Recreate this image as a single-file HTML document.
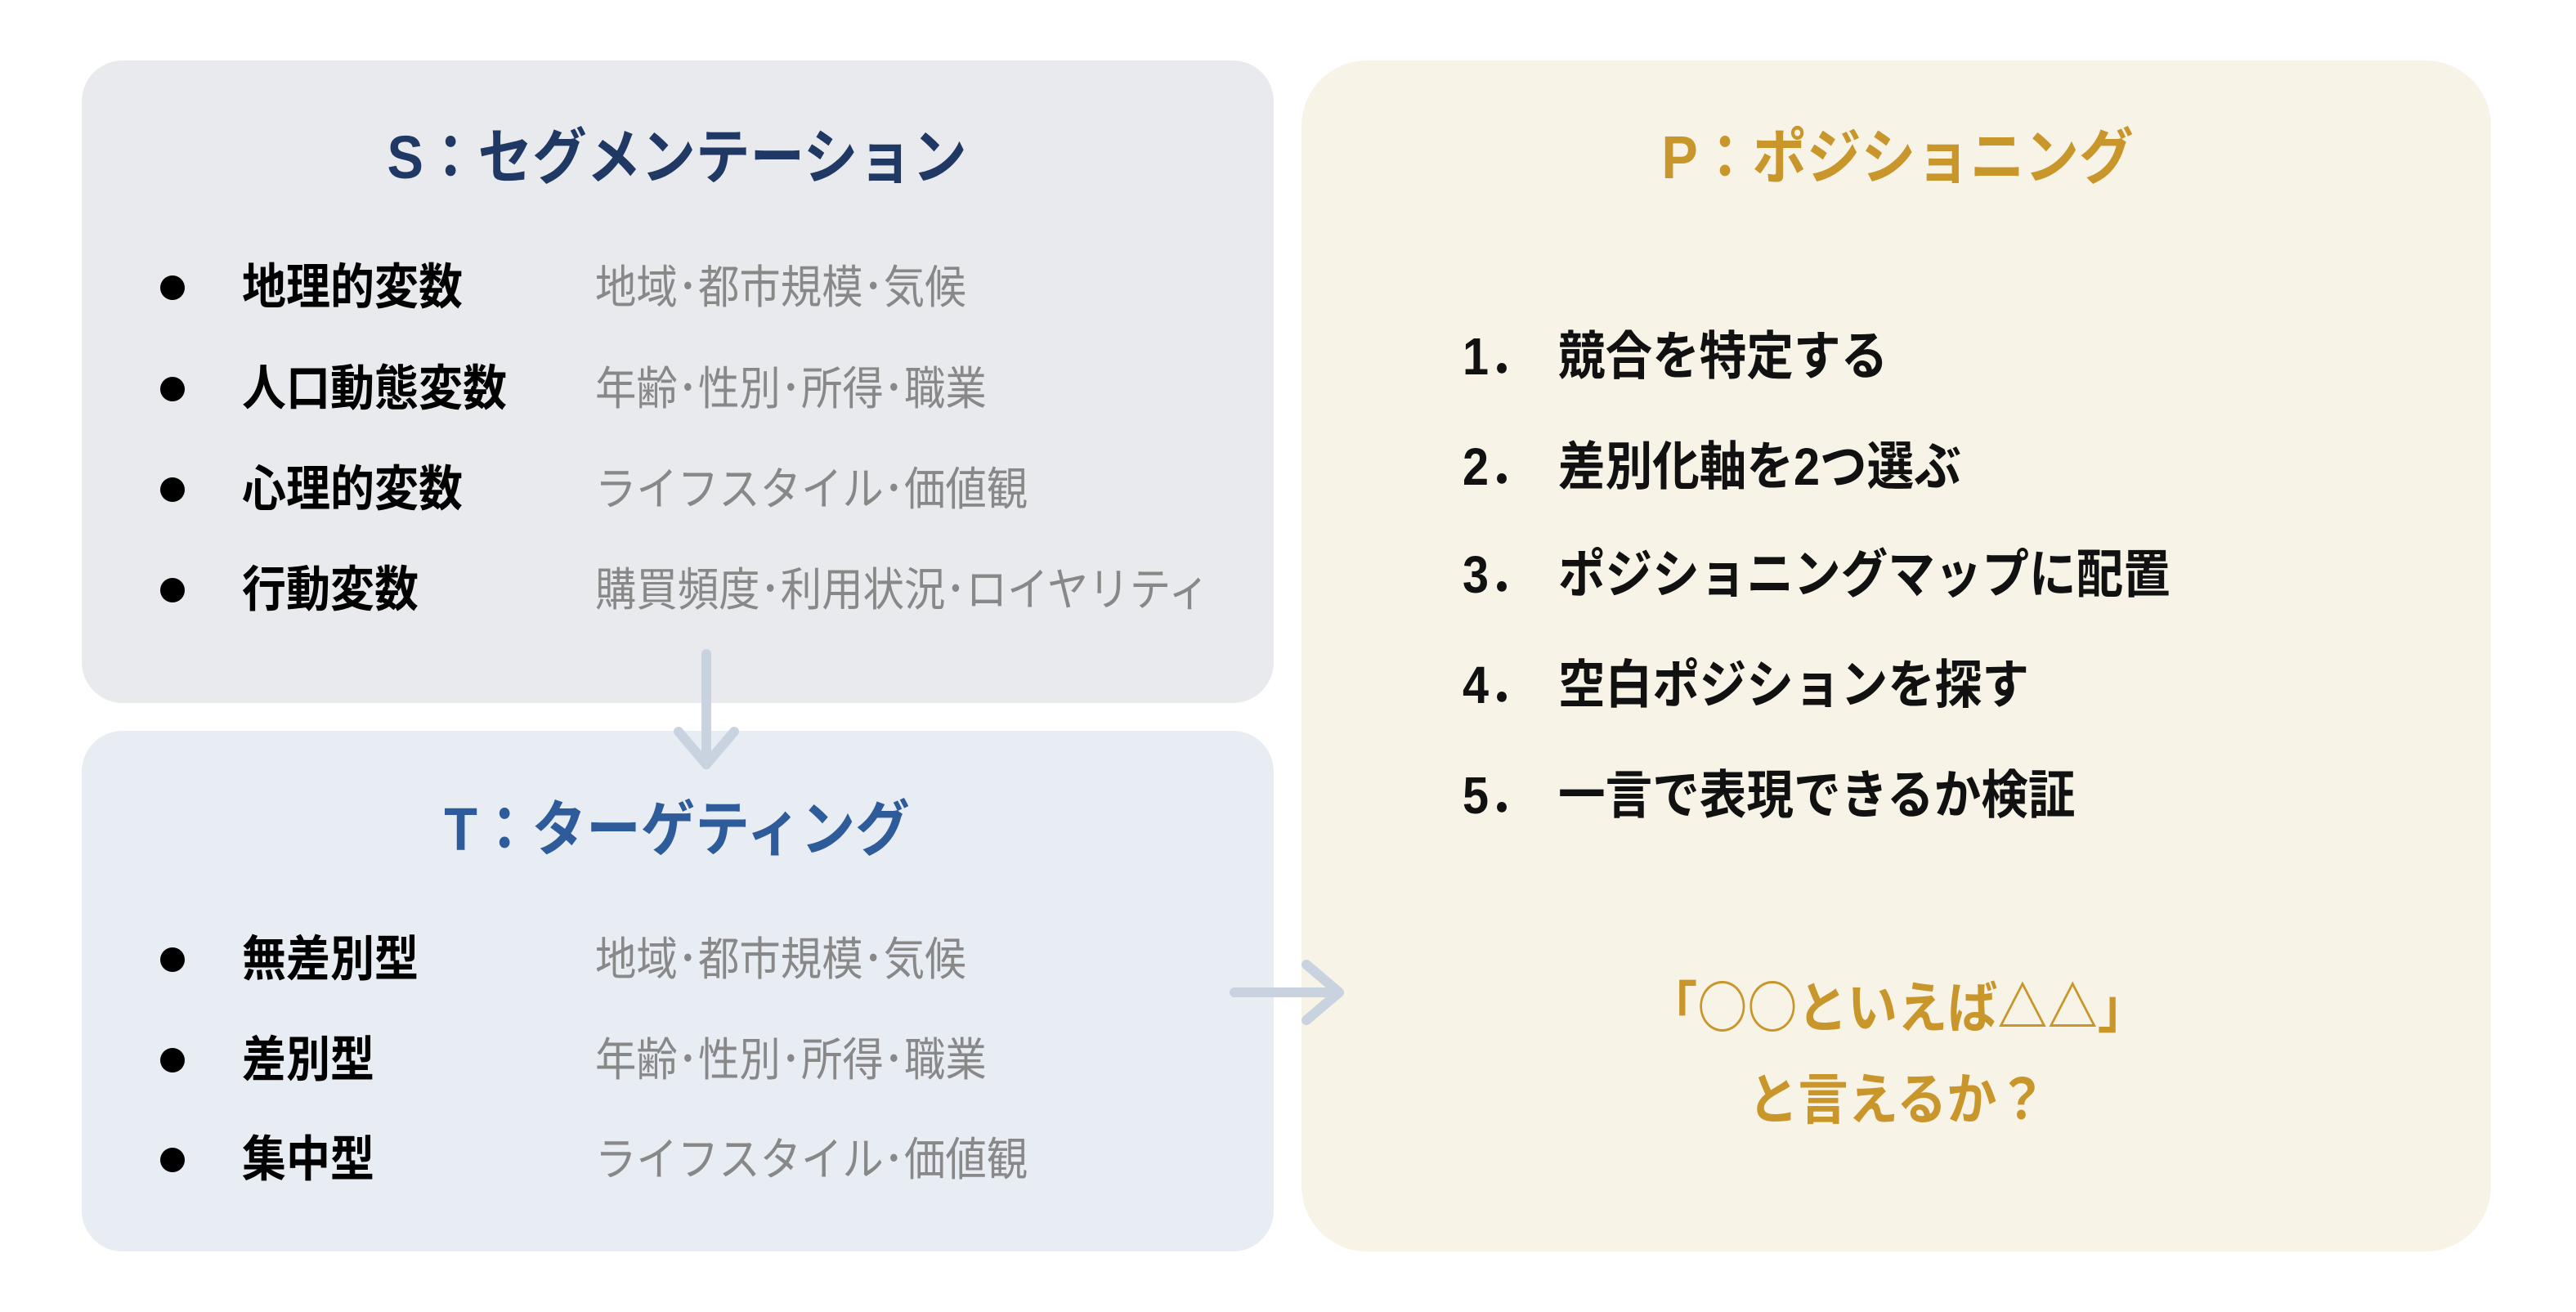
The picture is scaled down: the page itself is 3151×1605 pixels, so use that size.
<!DOCTYPE html>
<html><head><meta charset="utf-8"><style>
*{margin:0;padding:0;box-sizing:border-box}
body{width:3151px;height:1605px;background:#fff;position:relative;overflow:hidden;font-family:"Liberation Sans","Noto Sans CJK JP",sans-serif}
.box{position:absolute;border-radius:50px}
.t{position:absolute;white-space:nowrap;line-height:1;transform:translateY(-50%) scaleX(.9);transform-origin:left center}
.c{transform:translate(-50%,-50%) scaleX(.9);transform-origin:center center}
.h{font-weight:700;font-size:74px}
.dot{position:absolute;width:30px;height:30px;border-radius:50%;background:#000;transform:translate(-50%,-50%)}
.lab{font-weight:700;font-size:60px;color:#000;left:296px}
.desc{font-size:56px;color:#888;left:728px}
.li{font-weight:700;font-size:64px;color:#111}
.n{left:1789px}
.x{left:1906px}
.q{font-weight:700;font-size:68px;color:#c8962a;font-family:"Noto Sans CJK JP",sans-serif}
</style></head><body>
<div class="box" style="left:100px;top:74px;width:1458px;height:786px;background:#e8eaee"></div>
<div class="box" style="left:100px;top:894px;width:1458px;height:637px;background:#e8edf4"></div>
<div class="box" style="left:1592px;top:74px;width:1455px;height:1457px;background:#f7f3e7;border-radius:80px"></div>

<svg style="position:absolute;left:0;top:0" width="3151" height="1605">
<g stroke="#c9d3e0" stroke-width="12" fill="none" stroke-linecap="round" stroke-linejoin="round">
<line x1="864" y1="800" x2="864" y2="935"/>
<polyline points="830,895 864,935 898,895"/>
<line x1="1510" y1="1214" x2="1638" y2="1214"/>
<polyline points="1598,1180 1638,1214 1598,1248"/>
</g></svg>

<div class="t c h" style="left:828px;top:193px;color:#1f3864">S：セグメンテーション</div>
<div class="dot" style="left:211px;top:352px"></div><div class="t lab" style="top:352px">地理的変数</div><div class="t desc" style="top:352px">地域･都市規模･気候</div>
<div class="dot" style="left:211px;top:476px"></div><div class="t lab" style="top:476px">人口動態変数</div><div class="t desc" style="top:476px">年齢･性別･所得･職業</div>
<div class="dot" style="left:211px;top:599px"></div><div class="t lab" style="top:599px">心理的変数</div><div class="t desc" style="top:599px">ライフスタイル･価値観</div>
<div class="dot" style="left:211px;top:722px"></div><div class="t lab" style="top:722px">行動変数</div><div class="t desc" style="top:722px">購買頻度･利用状況･ロイヤリティ</div>

<div class="t c h" style="left:828px;top:1015px;color:#2e5c9a">T：ターゲティング</div>
<div class="dot" style="left:211px;top:1174px"></div><div class="t lab" style="top:1174px">無差別型</div><div class="t desc" style="top:1174px">地域･都市規模･気候</div>
<div class="dot" style="left:211px;top:1297px"></div><div class="t lab" style="top:1297px">差別型</div><div class="t desc" style="top:1297px">年齢･性別･所得･職業</div>
<div class="dot" style="left:211px;top:1419px"></div><div class="t lab" style="top:1419px">集中型</div><div class="t desc" style="top:1419px">ライフスタイル･価値観</div>

<div class="t c h" style="left:2321px;top:193px;color:#c8962a">P：ポジショニング</div>
<div class="t li n" style="top:436px">1．</div><div class="t li x" style="top:436px">競合を特定する</div>
<div class="t li n" style="top:571px">2．</div><div class="t li x" style="top:571px">差別化軸を2つ選ぶ</div>
<div class="t li n" style="top:703px">3．</div><div class="t li x" style="top:703px">ポジショニングマップに配置</div>
<div class="t li n" style="top:838px">4．</div><div class="t li x" style="top:838px">空白ポジションを探す</div>
<div class="t li n" style="top:973px">5．</div><div class="t li x" style="top:973px">一言で表現できるか検証</div>
<div class="t c q" style="left:2321px;top:1228px">「○○といえば△△」</div>
<div class="t c q" style="left:2321px;top:1340px">と言えるか？</div>
</body></html>
